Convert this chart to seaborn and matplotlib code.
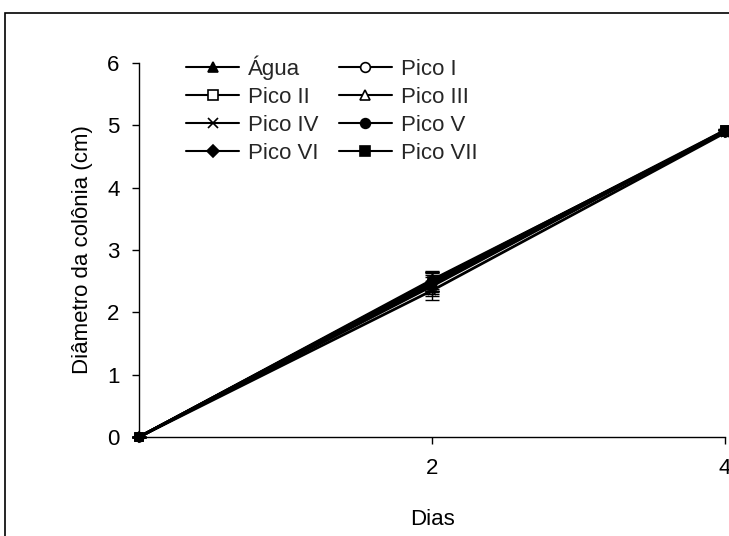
import matplotlib
matplotlib.use("Agg")
import matplotlib.pyplot as plt
import seaborn as sns
import pandas as pd
from matplotlib.patches import Rectangle
from matplotlib.lines import Line2D

dias = [0, 2, 4]
series = ["Água", "Pico I", "Pico II", "Pico III", "Pico IV", "Pico V", "Pico VI", "Pico VII"]
agua = [0, 2.50, 4.90]
pico1 = [0, 2.45, 4.90]
pico2 = [0, 2.50, 4.92]
pico3 = [0, 2.48, 4.90]
pico4 = [0, 2.35, 4.88]
pico5 = [0, 2.52, 4.90]
pico6 = [0, 2.50, 4.90]
pico7 = [0, 2.42, 4.92]
erro = [0, 0.15, 0.02]
values = [agua, pico1, pico2, pico3, pico4, pico5, pico6, pico7]
markers = ["^", "o", "s", "^", "x", "o", "D", "s"]
fills = ["black", "white", "white", "white", "black", "black", "black", "black"]

sns.set_theme(style="white")
plt.rcParams["font.family"] = ["Liberation Sans", "DejaVu Sans"]

fig = plt.figure(figsize=(7.29, 5.36), dpi=100)
ax = fig.add_axes([139/729, 99/536, 586/729, 374/536])

df = pd.DataFrame([(s, d, v) for s, vals in zip(series, values) for d, v in zip(dias, vals)],
                  columns=["serie", "dia", "valor"])

handles = []
for s, vals, m, f in zip(series, values, markers, fills):
    sub = df[df.serie == s]
    ms = 6 if m != "D" else 5.5
    ax.errorbar(dias, vals, yerr=erro, fmt="none", ecolor="black", elinewidth=1, capsize=5, capthick=1, clip_on=False)
    sns.lineplot(data=sub, x="dia", y="valor", ax=ax, color="black", lw=2,
                 marker=m, markersize=ms, markerfacecolor=f,
                 markeredgecolor="black", markeredgewidth=1.2, clip_on=False, label=s, legend=False)
    handles.append(Line2D([], [], color="black", lw=1.5, marker=m, markersize=ms + 1,
                          markerfacecolor=f, markeredgecolor="black", markeredgewidth=1.2, label=s))

order = [0, 2, 4, 6, 1, 3, 5, 7]
leg = ax.legend([handles[i] for i in order], [series[i] for i in order], ncol=2,
                loc="upper left", bbox_to_anchor=(0.065, 1.045), frameon=False, fontsize=16,
                handlelength=2.4, handletextpad=0.4, columnspacing=0.9, labelspacing=0.32,
                borderaxespad=0)

ax.set_xlim(0, 4)
ax.set_ylim(0, 6)
ax.set_xticks([2, 4])
ax.set_xticklabels(["2", "4"])
ax.set_yticks([0, 1, 2, 3, 4, 5, 6])
ax.tick_params(axis="both", labelsize=16, colors="black", length=5, width=1, direction="out", pad=9)
ax.tick_params(axis="y", left=True)
ax.tick_params(axis="x", bottom=True, pad=10)
ax.set_xlabel("Dias", fontsize=16, color="black", labelpad=22)
ax.set_ylabel("Diâmetro da colônia (cm)", fontsize=16, color="black", labelpad=10)
for side in ["top", "right"]:
    ax.spines[side].set_visible(False)
for side in ["left", "bottom"]:
    ax.spines[side].set_color("black")
    ax.spines[side].set_linewidth(1)
ax.set_facecolor("none")

fig.patches.append(Rectangle((5/729, -0.1), 1.1, (536-13)/536 + 0.1, transform=fig.transFigure,
                             fill=False, edgecolor="black", lw=1.2))

fig.savefig("out.png", dpi=100)
